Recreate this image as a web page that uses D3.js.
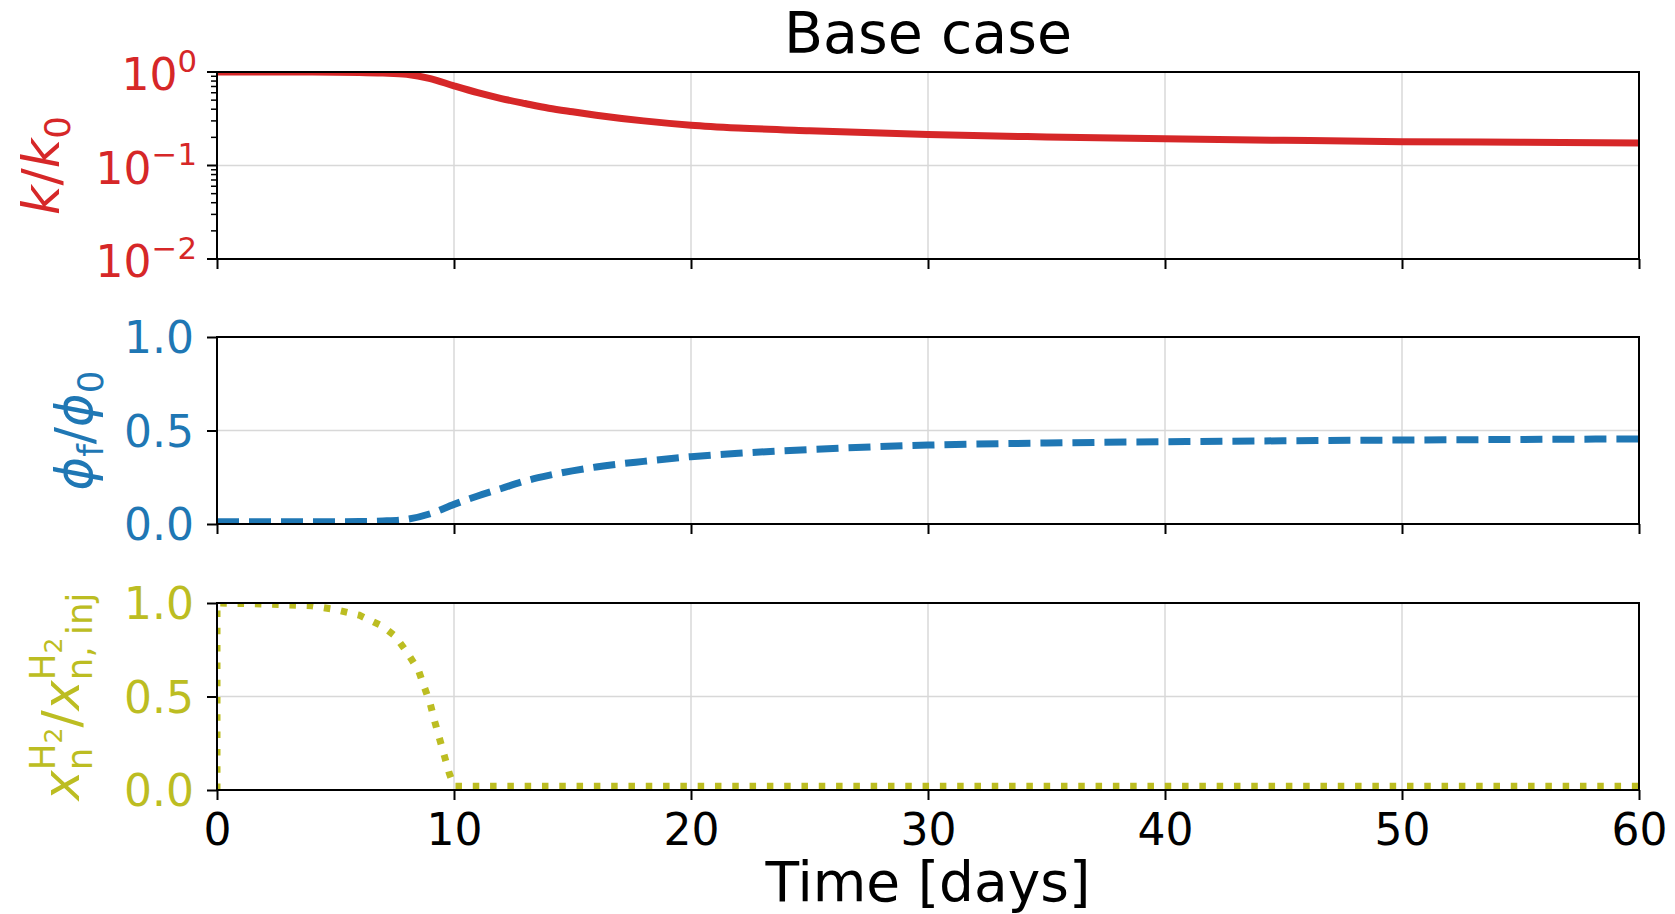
<!DOCTYPE html>
<html>
<head>
<meta charset="utf-8">
<script src="https://cdn.jsdelivr.net/npm/d3@7"></script>
<style>
  body { margin: 0; background: #fff; }
  text { font-family: "DejaVu Sans", sans-serif; }
</style>
</head>
<body>
<svg id="chart" width="1675" height="914"></svg>
<script>
// values
var kDays = [0, 2, 4, 6, 7, 8, 9, 10, 11, 12, 13, 14, 15, 16, 18, 20, 22, 25, 30, 35, 40, 45, 50, 55, 60];
var kRatio = [1.0, 1.0, 1.0, 0.99, 0.975, 0.945, 0.85, 0.71, 0.6, 0.52, 0.46, 0.41, 0.375, 0.345, 0.3, 0.27, 0.252, 0.235, 0.214, 0.202, 0.193, 0.186, 0.18, 0.177, 0.174];

var phiDays = [0, 2, 4, 6, 7, 8, 9, 10, 11, 12, 13, 14, 16, 18, 20, 22, 25, 30, 35, 40, 45, 50, 55, 60];
var phiRatio = [0.012, 0.012, 0.012, 0.013, 0.016, 0.025, 0.055, 0.105, 0.15, 0.19, 0.23, 0.26, 0.305, 0.335, 0.36, 0.378, 0.398, 0.422, 0.433, 0.44, 0.445, 0.449, 0.452, 0.455];

var h2Days = [0, 0, 2, 4, 5, 6, 7, 7.5, 8, 8.5, 9, 9.2, 9.4, 9.6, 9.8, 10, 15, 20, 30, 40, 50, 60];
var h2Ratio = [0, 1.0, 0.995, 0.985, 0.965, 0.935, 0.875, 0.825, 0.74, 0.64, 0.46, 0.36, 0.27, 0.18, 0.09, 0.02, 0.02, 0.02, 0.02, 0.02, 0.02, 0.02];

var xTicks = [0, 10, 20, 30, 40, 50, 60];
var linTicks = [0, 0.5, 1.0];
var logTicks = [0.01, 0.1, 1];
var logTickExp = ["\u22122", "\u22121", "0"];

var svg = d3.select("#chart");
var x = d3.scaleLinear().domain([0, 60]).range([217, 1639]);

// labelX is where the rotated label's baseline sits
var panels = [
  { id: "k", top: 72, bottom: 259, color: "#d62728", log: true, labelX: 59,
    days: kDays, vals: kRatio, dash: null },
  { id: "phi", top: 337, bottom: 524, color: "#1f77b4", log: false, labelX: 92,
    days: phiDays, vals: phiRatio, dash: "22,10" },
  { id: "h2", top: 603, bottom: 790, color: "#bcbd22", log: false, labelX: 79,
    days: h2Days, vals: h2Ratio, dash: "6.5,10.8" }
];

// tiny mathtext: runs of text, with sub/superscripts stacked when needed
function layoutRuns(g, runs, x0, size) {
  var cx = x0;
  runs.forEach(function(r) {
    if (r.stack) {
      var end = cx;
      r.stack.forEach(function(part) { end = Math.max(end, layoutRuns(g, part, cx, size)); });
      cx = end;
    } else {
      var t = g.append("text")
        .attr("x", cx)
        .attr("y", -(r.up || 0) * size)
        .attr("font-size", size * (r.sz || 1))
        .attr("font-style", r.it ? "italic" : "normal")
        .text(r.s);
      cx += t.node().getComputedTextLength();
    }
  });
  return cx;
}
function drawMath(parent, runs, size, color) {
  var g = parent.append("g").attr("fill", color);
  var w = layoutRuns(g, runs, 0, size);
  return { g: g, width: w };
}

var yLabels = {
  k: [{ s: "k", it: true }, { s: "/" }, { s: "k", it: true }, { s: "0", sz: 0.7, up: -0.22 }],
  phi: [{ s: "\u03d5", it: true }, { s: "f", sz: 0.7, up: -0.22 }, { s: "/" },
        { s: "\u03d5", it: true }, { s: "0", sz: 0.7, up: -0.22 }],
  h2: [{ s: "x", it: true },
       { stack: [[{ s: "n", sz: 0.7, up: -0.25 }],
                 [{ s: "H", sz: 0.7, up: 0.48 }, { s: "2", sz: 0.49, up: 0.34 }]] },
       { s: "/" },
       { s: "x", it: true },
       { stack: [[{ s: "n, inj", sz: 0.7, up: -0.25 }],
                 [{ s: "H", sz: 0.7, up: 0.48 }, { s: "2", sz: 0.49, up: 0.34 }]] }]
};

panels.forEach(function(p, i) {
  var y = p.log ? d3.scaleLog().domain([0.01, 1]).range([p.bottom, p.top])
                : d3.scaleLinear().domain([0, 1]).range([p.bottom, p.top]);
  var g = svg.append("g");

  // clip to the axes box
  svg.append("clipPath").attr("id", "clip-" + p.id)
    .append("rect").attr("x", x(0)).attr("y", p.top)
    .attr("width", x(60) - x(0)).attr("height", p.bottom - p.top);

  // grid
  g.selectAll(".vgrid").data(xTicks).enter().append("line")
    .attr("x1", function(d) { return x(d); }).attr("x2", function(d) { return x(d); })
    .attr("y1", p.top).attr("y2", p.bottom)
    .attr("stroke", "#d8d8d8").attr("stroke-width", 1.5);
  var gridVals = p.log ? logTicks : linTicks;
  g.selectAll(".hgrid").data(gridVals).enter().append("line")
    .attr("x1", x(0)).attr("x2", x(60))
    .attr("y1", function(d) { return y(d); }).attr("y2", function(d) { return y(d); })
    .attr("stroke", "#d8d8d8").attr("stroke-width", 1.5);

  // the series
  var line = d3.line()
    .x(function(d, j) { return x(p.days[j]); })
    .y(function(d) { return y(d); })
    .curve(p.id == "h2" ? d3.curveLinear : d3.curveMonotoneX);
  g.append("path").datum(p.vals)
    .attr("d", line)
    .attr("clip-path", "url(#clip-" + p.id + ")")
    .attr("fill", "none")
    .attr("stroke", p.color)
    .attr("stroke-width", 7)
    .attr("stroke-dasharray", p.dash)
    .attr("stroke-linecap", "butt");

  // x ticks (labels only on the bottom panel)
  var xAxis = d3.axisBottom(x).tickValues(xTicks).tickSize(10).tickSizeOuter(0).tickPadding(14)
    .tickFormat(i == 2 ? d3.format("d") : "");
  var xg = g.append("g").attr("transform", "translate(0," + p.bottom + ")").call(xAxis);
  xg.select(".domain").remove();
  xg.selectAll(".tick line").attr("stroke", "#000").attr("stroke-width", 2);
  xg.selectAll(".tick text").attr("font-size", 44).attr("fill", "#000")
    .attr("font-family", "DejaVu Sans");

  // y ticks
  if (p.log) {
    var minor = [];
    [0.01, 0.1].forEach(function(dec) {
      for (var m = 2; m <= 9; m++) minor.push(dec * m);
    });
    g.selectAll(".minor").data(minor).enter().append("line")
      .attr("x1", x(0) - 6).attr("x2", x(0))
      .attr("y1", function(d) { return y(d); }).attr("y2", function(d) { return y(d); })
      .attr("stroke", "#000").attr("stroke-width", 1.5);
    g.selectAll(".major").data(logTicks).enter().append("line")
      .attr("x1", x(0) - 10).attr("x2", x(0))
      .attr("y1", function(d) { return y(d); }).attr("y2", function(d) { return y(d); })
      .attr("stroke", "#000").attr("stroke-width", 2);
    logTicks.forEach(function(v, j) {
      var m = drawMath(g, [{ s: "10" }, { s: logTickExp[j], sz: 0.7, up: 0.42 }], 44, p.color);
      m.g.attr("transform", "translate(" + (197 - m.width) + "," + (y(v) + 18) + ")");
    });
  } else {
    var yAxis = d3.axisLeft(y).tickValues(linTicks).tickSize(10).tickSizeOuter(0).tickPadding(13)
      .tickFormat(d3.format(".1f"));
    var yg = g.append("g").attr("transform", "translate(" + x(0) + ",0)").call(yAxis);
    yg.select(".domain").remove();
    yg.selectAll(".tick line").attr("stroke", "#000").attr("stroke-width", 2);
    yg.selectAll(".tick text").attr("font-size", 44).attr("fill", p.color)
      .attr("font-family", "DejaVu Sans").attr("dy", "0.36em");
  }

  // axes box on top of the lines
  g.append("rect").attr("x", x(0)).attr("y", p.top)
    .attr("width", x(60) - x(0)).attr("height", p.bottom - p.top)
    .attr("fill", "none").attr("stroke", "#000").attr("stroke-width", 2);

  // rotated y label
  var lab = drawMath(svg, yLabels[p.id], 51, p.color);
  var cy = (p.top + p.bottom) / 2;
  lab.g.attr("transform", "translate(" + p.labelX + "," + cy + ") rotate(-90) translate(" + (-lab.width / 2) + ",0)");
});

// title and x label
svg.append("text").attr("x", 928).attr("y", 53).attr("text-anchor", "middle")
  .attr("font-size", 57).attr("fill", "#000").text("Base case");
svg.append("text").attr("x", 928).attr("y", 901).attr("text-anchor", "middle")
  .attr("font-size", 55).attr("fill", "#000").text("Time [days]");
</script>
</body>
</html>
